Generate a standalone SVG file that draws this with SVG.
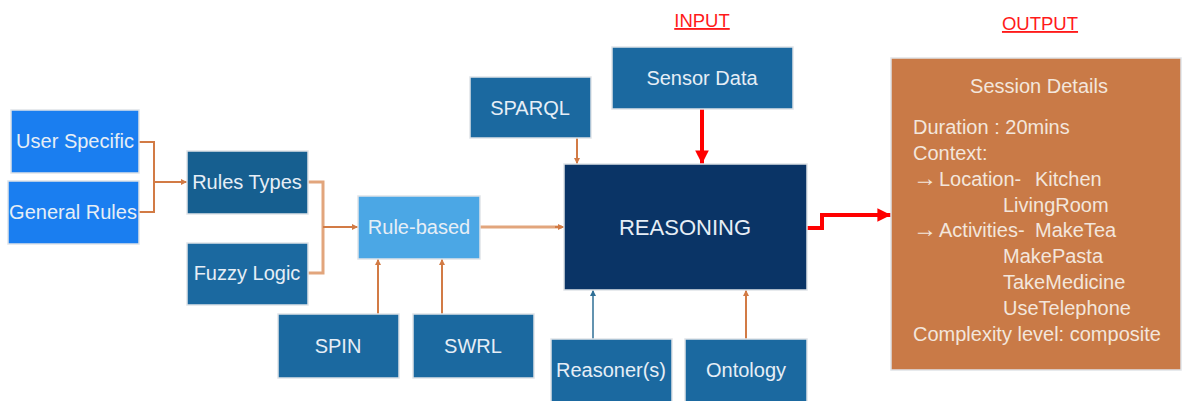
<svg xmlns="http://www.w3.org/2000/svg" width="1184" height="401" viewBox="0 0 1184 401">
<style>
.box{stroke:#dfe3e8;stroke-width:1.5}
.bright{fill:#1a7ef0}
.mid{fill:#1b69a0}
.dark{fill:#165f90}
.light{fill:#4ba7e5}
.navy{fill:#0a3466}
.out{fill:#c97a47}
.t{font-family:"Liberation Sans",Arial,sans-serif;font-size:20px;fill:#e6eef6;text-anchor:middle;dominant-baseline:central}
.ot{font-family:"Liberation Sans",Arial,sans-serif;font-size:20px;fill:#f3e6dc}
.hdr{font-family:"Liberation Sans",Arial,sans-serif;font-size:18.5px;fill:#ff1a1a;text-anchor:middle;text-decoration:underline}
.oc{fill:none;stroke:#d27b45;stroke-width:2}
.oc2{fill:none;stroke:#e2a57c;stroke-width:3}
.red{fill:none;stroke:#ff0000;stroke-width:4}
</style>
<defs>
<marker id="ah" viewBox="0 0 10 10" refX="10" refY="5" markerWidth="3" markerHeight="3" orient="auto" markerUnits="strokeWidth"><path d="M0,0 L10,5 L0,10 z" fill="#d27b45"/></marker>
<marker id="ahb" viewBox="0 0 10 10" refX="10" refY="5" markerWidth="4" markerHeight="4" orient="auto" markerUnits="strokeWidth"><path d="M0,0 L10,5 L0,10 z" fill="#2f6f96"/></marker>
<marker id="ahr" viewBox="0 0 10 10" refX="10" refY="5" markerWidth="3.6" markerHeight="3.4" orient="auto" markerUnits="strokeWidth"><path d="M0,0 L10,5 L0,10 z" fill="#ff0000"/></marker>
</defs>
<text class="hdr" x="702" y="27">INPUT</text>
<text class="hdr" x="1040" y="30">OUTPUT</text>
<g id="connectors">
<path class="oc" d="M139,142 H154 V182 M139,212 H154 V182"/>
<path class="oc" d="M154,182 H187" marker-end="url(#ah)"/>
<path class="oc2" d="M308,182 H323 V273 H308"/>
<path class="oc" d="M323,227 H358" marker-end="url(#ah)"/>
<path class="oc" d="M378,314 V259" marker-end="url(#ah)"/>
<path class="oc" d="M442,314 V259" marker-end="url(#ah)"/>
<path class="oc2" d="M480,227 H562"/>
<path class="oc" d="M555,227 H564" marker-end="url(#ah)"/>
<path class="oc" d="M577,138 V164" marker-end="url(#ah)"/>
<path d="M593,339 V290" fill="none" stroke="#2f6f96" stroke-width="1.5" marker-end="url(#ahb)"/>
<path class="oc" d="M746,339 V290" marker-end="url(#ah)"/>
<path class="red" d="M702,109 V164" marker-end="url(#ahr)"/>
<path class="red" d="M807,228 H822 V215 H891" marker-end="url(#ahr)"/>
</g>
<g id="user-specific"><rect class="box bright" x="11" y="110" width="128" height="63"/><text class="t" x="75" y="141">User Specific</text></g>
<g id="general-rules"><rect class="box bright" x="8" y="181" width="131" height="63"/><text class="t" x="73" y="212">General Rules</text></g>
<g id="rules-types"><rect class="box dark" x="187" y="151" width="121" height="63"/><text class="t" x="247" y="182">Rules Types</text></g>
<g id="fuzzy-logic"><rect class="box mid" x="187" y="243" width="121" height="62"/><text class="t" x="247" y="273">Fuzzy Logic</text></g>
<g id="rule-based"><rect class="box light" x="358" y="196" width="122" height="63"/><text class="t" x="419" y="227">Rule-based</text></g>
<g id="spin"><rect class="box mid" x="278" y="314" width="121" height="64"/><text class="t" x="338" y="346">SPIN</text></g>
<g id="swrl"><rect class="box mid" x="413" y="314" width="121" height="64"/><text class="t" x="473" y="346">SWRL</text></g>
<g id="sparql"><rect class="box mid" x="470" y="77" width="121" height="61"/><text class="t" x="530" y="108">SPARQL</text></g>
<g id="sensor-data"><rect class="box mid" x="612" y="47" width="181" height="62"/><text class="t" x="702" y="78">Sensor Data</text></g>
<g id="reasoning"><rect class="box navy" x="564" y="164" width="243" height="126"/><text class="t" x="685" y="227" style="font-size:22px">REASONING</text></g>
<g id="reasoners"><rect class="box mid" x="551" y="339" width="121" height="66"/><text class="t" x="611" y="370">Reasoner(s)</text></g>
<g id="ontology"><rect class="box mid" x="685" y="339" width="122" height="66"/><text class="t" x="746" y="370">Ontology</text></g>
<g id="output">
<rect class="box out" x="891" y="58" width="290" height="312"/>
<text class="ot" x="1039" y="93" text-anchor="middle">Session Details</text>
<text class="ot" x="913" y="134">Duration : 20mins</text>
<text class="ot" x="913" y="160">Context:</text>
<text class="ot" x="913" y="186" style="font-size:24px">→</text>
<text class="ot" x="939" y="186">Location-</text>
<text class="ot" x="1035" y="186">Kitchen</text>
<text class="ot" x="1003" y="212">LivingRoom</text>
<text class="ot" x="913" y="237" style="font-size:24px">→</text>
<text class="ot" x="939" y="237">Activities-</text>
<text class="ot" x="1035" y="237">MakeTea</text>
<text class="ot" x="1003" y="263">MakePasta</text>
<text class="ot" x="1003" y="289">TakeMedicine</text>
<text class="ot" x="1003" y="315">UseTelephone</text>
<text class="ot" x="913" y="341">Complexity level: composite</text>
</g>
</svg>
